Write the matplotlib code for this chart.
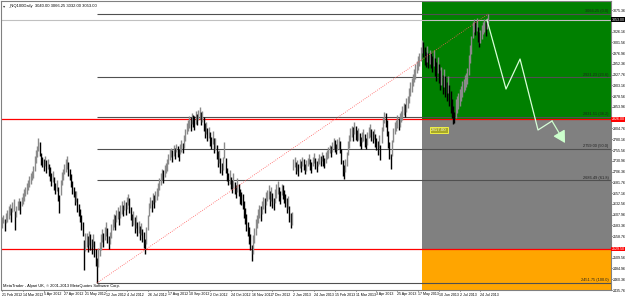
import matplotlib

matplotlib.use("Agg")
import matplotlib.pyplot as plt
import matplotlib.transforms as mtransforms
from matplotlib.patches import Rectangle
import numpy as np

plt.rcParams["font.family"] = ["Liberation Sans", "DejaVu Sans"]

# daily bars, Feb 2012 .. Aug 2013 (mid price and high-low span)
bar_mid = [
    2590, 2598, 2585, 2600, 2605, 2612, 2620, 2608, 2625, 2630,
    2595, 2615, 2628, 2632, 2625, 2638, 2645, 2652, 2660, 2668,
    2675, 2684, 2690, 2697, 2705, 2725, 2740, 2752, 2768, 2758,
    2735, 2728, 2722, 2730, 2718, 2724, 2710, 2700, 2688, 2695,
    2680, 2668, 2674, 2655, 2632, 2670, 2690, 2700, 2712, 2720,
    2728, 2712, 2700, 2685, 2670, 2660, 2645, 2650, 2630, 2618,
    2605, 2590, 2575, 2515, 2545, 2550, 2540, 2555, 2545, 2535,
    2548, 2530, 2510, 2480, 2510, 2530, 2545, 2560, 2550, 2565,
    2575, 2560, 2545, 2555, 2570, 2585, 2595, 2590, 2605, 2612,
    2600, 2615, 2625, 2618, 2630, 2622, 2635, 2642, 2628, 2610,
    2595, 2600, 2585, 2592, 2575, 2580, 2565, 2575, 2560, 2550,
    2535, 2560, 2590, 2620, 2635, 2628, 2645, 2638, 2650, 2655,
    2665, 2678, 2690, 2700, 2695, 2708, 2715, 2722, 2735, 2745,
    2750, 2742, 2755, 2748, 2760, 2752, 2745, 2758, 2765, 2760,
    2775, 2790, 2805, 2812, 2820, 2815, 2828, 2822, 2818, 2830,
    2825, 2835, 2840, 2828, 2832, 2815, 2800, 2805, 2790, 2795,
    2780, 2772, 2785, 2765, 2770, 2750, 2735, 2740, 2720, 2712,
    2725, 2755, 2720, 2700, 2690, 2695, 2680, 2672, 2685, 2668,
    2660, 2675, 2665, 2650, 2645, 2638, 2620, 2605, 2590, 2575,
    2560, 2545, 2520, 2540, 2560, 2580, 2592, 2605, 2615, 2610,
    2625, 2635, 2628, 2645, 2652, 2660, 2645, 2655, 2640, 2632,
    2650, 2662, 2670, 2655, 2648, 2665, 2660, 2650, 2640, 2628,
    2635, 2610, 2595, 2600, 2722, 2728, 2715, 2720, 2710, 2725,
    2718, 2730, 2722, 2712, 2720, 2728, 2735, 2722, 2716, 2730,
    2738, 2725, 2718, 2728, 2735, 2730, 2740, 2732, 2726, 2738,
    2745, 2750, 2758, 2752, 2762, 2770, 2765, 2758, 2768, 2772,
    2762, 2740, 2715, 2705, 2720, 2735, 2760, 2775, 2790, 2798,
    2792, 2805, 2795, 2788, 2792, 2780, 2772, 2785, 2790, 2778,
    2770, 2782, 2795, 2800, 2790, 2785, 2792, 2778, 2770, 2760,
    2775, 2750, 2790, 2815, 2830, 2825, 2805, 2780, 2755, 2730,
    2760, 2790, 2805, 2812, 2820, 2815, 2825, 2832, 2840, 2850,
    2845, 2858, 2865, 2880, 2895, 2905, 2915, 2925, 2935, 2945,
    2955, 2962, 2975, 2992, 2985, 2970, 2962, 2975, 2960, 2968,
    2960, 2952, 2965, 2945, 2935, 2950, 2930, 2915, 2925, 2905,
    2920, 2900, 2890, 2905, 2880, 2865, 2850, 2835, 2830, 2850,
    2860, 2868, 2875, 2885, 2895, 2902, 2910, 2915, 2925, 2950,
    2975, 2995, 3030, 3040, 3035, 3042, 3020, 3008, 3015, 3025,
    3035, 3040, 3032, 3045, 3056,
]
bar_span = [
    24, 20, 28, 22, 26, 30, 24, 32, 22, 26,
    44, 24, 20, 26, 30, 22, 24, 28, 20, 26,
    22, 26, 24, 20, 28, 34, 30, 26, 28, 32,
    26, 22, 28, 24, 30, 22, 26, 32, 28, 24,
    30, 26, 24, 34, 40, 36, 30, 26, 24, 28,
    30, 32, 26, 30, 28, 24, 32, 26, 34, 28,
    30, 34, 32, 68, 40, 30, 36, 32, 38, 34,
    30, 36, 40, 56, 44, 32, 36, 30, 34, 28,
    32, 36, 30, 28, 32, 26, 30, 34, 28, 26,
    32, 28, 30, 26, 24, 30, 28, 26, 34, 30,
    28, 32, 36, 30, 34, 28, 32, 26, 30, 36,
    34, 40, 36, 30, 26, 28, 24, 30, 26, 28,
    30, 26, 28, 24, 30, 26, 22, 28, 24, 26,
    22, 28, 24, 26, 20, 24, 28, 22, 26, 24,
    30, 28, 26, 24, 28, 30, 24, 26, 32, 28,
    26, 24, 28, 30, 26, 32, 34, 28, 30, 26,
    32, 28, 30, 34, 28, 32, 36, 30, 34, 28,
    30, 36, 34, 30, 28, 32, 26, 30, 34, 28,
    30, 32, 28, 34, 30, 36, 40, 36, 38, 34,
    40, 38, 36, 42, 34, 36, 30, 32, 28, 34,
    30, 28, 34, 30, 26, 32, 36, 30, 34, 28,
    32, 30, 28, 34, 30, 26, 32, 30, 28, 34,
    30, 36, 34, 30, 26, 22, 28, 24, 26, 22,
    24, 20, 26, 22, 24, 20, 22, 26, 24, 20,
    22, 26, 24, 20, 22, 24, 20, 26, 22, 24,
    22, 24, 20, 26, 22, 24, 28, 22, 24, 26,
    28, 34, 36, 32, 30, 34, 32, 28, 30, 26,
    30, 28, 32, 26, 28, 30, 26, 24, 28, 30,
    26, 28, 24, 30, 26, 28, 24, 30, 28, 32,
    30, 34, 36, 30, 26, 32, 36, 40, 38, 34,
    36, 32, 28, 26, 30, 28, 32, 26, 30, 28,
    30, 32, 28, 34, 30, 32, 28, 30, 34, 28,
    32, 30, 34, 30, 36, 40, 34, 38, 36, 32,
    34, 38, 36, 40, 44, 38, 42, 46, 40, 44,
    42, 48, 44, 40, 46, 50, 44, 40, 26, 44,
    40, 36, 38, 34, 36, 30, 34, 32, 36, 44,
    40, 42, 36, 30, 32, 28, 34, 36, 30, 32,
    28, 30, 32, 26, 20,
]

date_labels = [
    "21 Feb 2012", "14 Mar 2012", "5 Apr 2012", "27 Apr 2012", "21 May 2012",
    "12 Jun 2012", "4 Jul 2012", "26 Jul 2012", "17 Aug 2012", "10 Sep 2012",
    "2 Oct 2012", "24 Oct 2012", "16 Nov 2012", "7 Dec 2012", "2 Jan 2013",
    "24 Jan 2013", "15 Feb 2013", "11 Mar 2013", "3 Apr 2013", "25 Apr 2013",
    "17 May 2013", "10 Jun 2013", "2 Jul 2013", "24 Jul 2013",
]
date_step = 16

# fibonacci retracement drawn from the June 2012 low to the 2013 high
fib_low = 2451.75
fib_high = 3066.25
fib_low_bar = 73
fib_high_bar = 374
fib_levels = [0.0, 23.6, 38.2, 50.0, 61.8, 100.0]

# coloured zones + horizontal lines
zone_start_bar = 323
red_levels = [2826.00, 2529.50]
bid_price = 3053.00

# hand drawn projection
proj_bar = [373.1, 387.7, 398.5, 412.3, 423.1, 433.1]
proj_price = [3052.5, 2894.9, 2963.4, 2801.3, 2821.8, 2771.5]

low_label = "2817.00"
low_label_bar = 336
low_label_price = 2801

title_text = "_NQ100Daily  3040.00 3066.25 3032.00 3053.00"
copyright_text = "MetaTrader - Alpari UK, \u00a9 2001-2013 MetaQuotes Software Corp."

tick_step = 24.60
tick_base = 2435.76

fig = plt.figure(figsize=(6.25, 2.97), dpi=100)
ax = fig.add_axes([1 / 625, 7 / 297, 610 / 625, 289 / 297])
x_min, x_max = -0.77, 468.46
y_min, y_max = 2435.76, 3095.95
ax.set_xlim(x_min, x_max)
ax.set_ylim(y_min, y_max)

# zones
ax.add_patch(Rectangle((zone_start_bar, red_levels[0]), x_max - zone_start_bar, y_max - red_levels[0],
                       facecolor="#008000", edgecolor="none", zorder=0))
ax.add_patch(Rectangle((zone_start_bar, red_levels[1]), x_max - zone_start_bar, red_levels[0] - red_levels[1],
                       facecolor="#808080", edgecolor="none", zorder=0))
ax.add_patch(Rectangle((zone_start_bar, y_min), x_max - zone_start_bar, red_levels[1] - y_min,
                       facecolor="#ffa500", edgecolor="none", zorder=0))

# fib levels
for lvl in fib_levels:
    price = fib_high - (fib_high - fib_low) * lvl / 100
    ax.hlines(price, fib_low_bar, x_max, color="#505050", lw=0.8, zorder=1)
    ax.text(x_max - 2, price + 1.5, f"{price:.2f} ({lvl:.1f})", ha="right", va="bottom",
            fontsize=2.8, color="#202020", zorder=5)

for price in red_levels:
    ax.axhline(price, color="#ff0000", lw=0.9, zorder=1)
ax.axhline(bid_price, color="#c0c0c0", lw=0.8, zorder=1)

# bars
mids = np.array(bar_mid, dtype=float)
spans = np.array(bar_span, dtype=float)
idx = np.arange(len(mids))
prev = np.concatenate([[mids[0]], mids[:-1]])
colors = np.where(mids >= prev, "#8a8a8a", "#000000")
ax.vlines(idx, mids - spans / 2, mids + spans / 2, colors=colors, lw=1.0, zorder=2)

# trendline low -> high
ax.plot([fib_low_bar, fib_high_bar], [fib_low, fib_high], color="#ff5a5a", lw=0.6,
        ls=(0, (1, 1.6)), zorder=3)

# projection
ax.plot(proj_bar[:-1], proj_price[:-1], color="#d8ffd8", lw=0.9, zorder=4)
ax.annotate("", xy=(proj_bar[-1], proj_price[-1]), xytext=(proj_bar[-2], proj_price[-2]),
            arrowprops=dict(arrowstyle="-|>,head_length=0.8,head_width=0.45", color="#ccffcc",
                            lw=0.9, mutation_scale=9, shrinkA=0, shrinkB=0), zorder=4)

ax.text(low_label_bar, low_label_price, low_label, ha="center", va="center", fontsize=3.2,
        color="#ffffd0", zorder=5,
        bbox=dict(boxstyle="square,pad=0.25", facecolor="#a8a828", edgecolor="#ffff40", lw=0.6))

# right price axis
ax.yaxis.tick_right()
ticks = tick_base + tick_step * np.arange(27)
highlight = red_levels + [bid_price]
ticks = [t for t in ticks if min(abs(t - h) for h in highlight) > 6]
ax.set_yticks(ticks)
ax.set_yticklabels([f"{t:.2f}" for t in ticks])
ax.tick_params(axis="y", labelsize=2.6, length=1.0, width=0.5, pad=0.5, colors="#000000")

trans = mtransforms.blended_transform_factory(ax.transAxes, ax.transData)
for price in red_levels:
    ax.text(1.0015, price, f"{price:.2f}", transform=trans, fontsize=2.6, color="white",
            ha="left", va="center", clip_on=False, zorder=6,
            bbox=dict(boxstyle="square,pad=0.12", facecolor="#ff0000", edgecolor="none"))
ax.text(1.0015, bid_price, f"{bid_price:.2f}", transform=trans, fontsize=2.6, color="white",
        ha="left", va="center", clip_on=False, zorder=6,
        bbox=dict(boxstyle="square,pad=0.12", facecolor="#000000", edgecolor="none"))

# date axis
date_pos = [date_step * k for k in range(len(date_labels))]
ax.set_xticks(date_pos)
ax.set_xticklabels(date_labels)
for lab in ax.get_xticklabels():
    lab.set_horizontalalignment("left")
ax.tick_params(axis="x", labelsize=2.6, length=1.0, width=0.5, pad=0.8)

for side in ax.spines.values():
    side.set_color("#808080")
    side.set_linewidth(0.8)

fig.text(3 / 625, 1 - 6 / 297, "\u25be", fontsize=3.2, color="#404040", va="center")
fig.text(8 / 625, 1 - 6 / 297, title_text, fontsize=3.0, color="#000000", va="center")
ax.text(0.004, 0.006, copyright_text, transform=ax.transAxes, fontsize=2.9, color="#000000",
        ha="left", va="bottom", zorder=5)

fig.savefig("out.png", dpi=100)
plt.close(fig)
